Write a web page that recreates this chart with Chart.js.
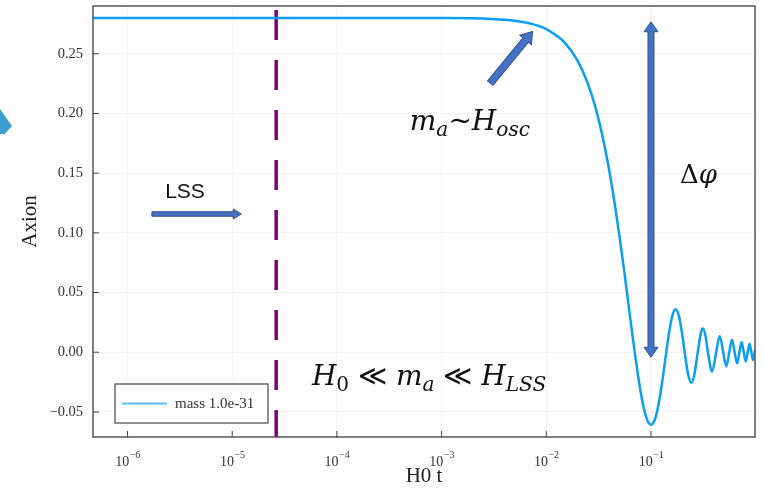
<!DOCTYPE html>
<html>
<head>
<meta charset="utf-8">
<script src="https://cdn.jsdelivr.net/npm/chart.js@4.4.1/dist/chart.umd.min.js"></script>
<style>
  body { margin: 0; background: #fff; }
  #wrap { position: relative; width: 766px; height: 489px; }
  #tri { position: absolute; left: 0; top: 109px; width: 12px; height: 25px; background: #3a9fd0;
         clip-path: polygon(0 0, 100% 68%, 40% 100%, 0 100%); }
</style>
</head>
<body>
<div id="wrap">
  <canvas id="c" width="766" height="489"></canvas>
  <div id="tri"></div>
</div>
<script>
// time (H0 t) and axion field
const times = [4.68e-7, 1e-5, 1e-4, 1e-3, 3e-3, 0.005, 0.008, 0.01, 0.015, 0.02, 0.025, 0.03, 0.035,
  0.04, 0.045, 0.05, 0.055, 0.06, 0.065, 0.07, 0.075, 0.08, 0.085, 0.09, 0.095, 0.1, 0.105, 0.11,
  0.12, 0.13, 0.14, 0.15, 0.16, 0.172, 0.185, 0.2, 0.21, 0.225, 0.243, 0.26, 0.28, 0.3, 0.313,
  0.33, 0.35, 0.383, 0.42, 0.453, 0.49, 0.524, 0.56, 0.594, 0.63, 0.664, 0.7, 0.734, 0.77, 0.804,
  0.84, 0.874, 0.91, 0.944, 0.985];
const axion = [0.280, 0.280, 0.280, 0.2799, 0.2792, 0.2776, 0.2740, 0.2707, 0.2593, 0.2438, 0.2248, 0.2026, 0.1780,
  0.1518, 0.1246, 0.0973, 0.0705, 0.0448, 0.0210, -0.0003, -0.0188, -0.0341, -0.0460, -0.0543, -0.0592, -0.0608, -0.0593, -0.0552,
  -0.0404, -0.0205, 0.0003, 0.0183, 0.0306, 0.0359, 0.0302, 0.0132, -0.0003, -0.0175, -0.0256, -0.0185, 0.0003, 0.0164, 0.0199,
  0.0146, -0.0003, -0.0162, 0.0003, 0.0137, -0.0003, -0.0119, 0.0003, 0.0105, -0.0003, -0.0094, 0.0003, 0.0085, -0.0003, -0.0078,
  0.0003, 0.0071, -0.0003, -0.0066, 0.0020];
const lssTime = 2.63e-5;
const seriesLabel = 'mass 1.0e-31';

const xTicks = [1e-6, 1e-5, 1e-4, 1e-3, 1e-2, 1e-1];
const xTickLabels = [['10', '−6'], ['10', '−5'], ['10', '−4'], ['10', '−3'], ['10', '−2'], ['10', '−1']];
const yTicks = [-0.05, 0, 0.05, 0.10, 0.15, 0.20, 0.25];
const yTickLabels = ['−0.05', '0.00', '0.05', '0.10', '0.15', '0.20', '0.25'];

const serif = '"Liberation Serif", "DejaVu Serif", serif';
const mathFont = '"DejaVu Serif", serif';
const blue = '#0c9ef5';

// slide annotations, positioned in data space
const arrows = [
  { from: { x: 1.71e-6, y: 0.1158 }, to: { x: 1.22e-5, y: 0.1158 }, shaft: 4.5, head: 10, headLen: 8 },
  { from: { x: 2.92e-3, y: 0.2254 }, to: { x: 7.4e-3, y: 0.2687 }, shaft: 7, head: 15, headLen: 11 },
  { from: { x: 0.1, y: 0.2768 }, to: { x: 0.1, y: -0.0042 }, shaft: 6, head: 14, headLen: 10, both: true }
];
const labels = [
  { at: { x: 3.54e-6, y: 0.1342 }, align: 'center', size: 21, parts: [{ t: 'LSS', fam: '"Liberation Sans", sans-serif' }] },
  { at: { x: 4.97e-4, y: 0.1862 }, size: 28, parts: [{ t: 'm', it: 1 }, { t: 'a', it: 1, sub: 1 }, { t: '~' }, { t: 'H', it: 1 }, { t: 'osc', it: 1, sub: 1 }] },
  { at: { x: 0.189, y: 0.1418 }, size: 26, parts: [{ t: 'Δ' }, { t: 'φ', it: 1 }] },
  { at: { x: 5.77e-5, y: -0.0277 }, size: 28, parts: [{ t: 'H', it: 1 }, { t: '0', sub: 1 }, { t: ' ≪ ' }, { t: 'm', it: 1 }, { t: 'a', it: 1, sub: 1 }, { t: ' ≪ ' }, { t: 'H', it: 1 }, { t: 'LSS', it: 1, sub: 1 }] }
];

function drawArrow(ctx, x1, y1, x2, y2, a) {
  const len = Math.hypot(x2 - x1, y2 - y1);
  const w = a.shaft / 2, hw = a.head / 2, hl = a.headLen;
  const pts = a.both
    ? [[0, 0], [hl, -hw], [hl, -w], [len - hl, -w], [len - hl, -hw], [len, 0], [len - hl, hw], [len - hl, w], [hl, w], [hl, hw]]
    : [[0, -w], [len - hl, -w], [len - hl, -hw], [len, 0], [len - hl, hw], [len - hl, w], [0, w]];
  ctx.save();
  ctx.translate(x1, y1);
  ctx.rotate(Math.atan2(y2 - y1, x2 - x1));
  ctx.beginPath();
  pts.forEach((p, i) => i ? ctx.lineTo(p[0], p[1]) : ctx.moveTo(p[0], p[1]));
  ctx.closePath();
  ctx.fillStyle = '#4472c4';
  ctx.fill();
  ctx.strokeStyle = '#2f528f';
  ctx.lineWidth = 1;
  ctx.stroke();
  ctx.restore();
}

function drawRich(ctx, x, y, parts, size, align) {
  const fontOf = p => (p.it ? 'italic ' : '') + (p.sub ? size * 0.72 : size) + 'px ' + (p.fam || mathFont);
  let total = 0;
  parts.forEach(p => { ctx.font = fontOf(p); total += ctx.measureText(p.t).width; });
  if (align === 'center') x -= total / 2;
  parts.forEach(p => {
    ctx.font = fontOf(p);
    ctx.fillText(p.t, x, y + (p.sub ? size * 0.22 : 0));
    x += ctx.measureText(p.t).width;
  });
}

const decor = {
  id: 'decor',
  afterDatasetsDraw(chart) {
    const { ctx, chartArea: ca, scales: { x, y } } = chart;
    ctx.save();
    // frame
    ctx.strokeStyle = '#555';
    ctx.lineWidth = 1.5;
    ctx.strokeRect(ca.left, ca.top, ca.right - ca.left, ca.bottom - ca.top);
    // inward ticks
    ctx.lineWidth = 1;
    ctx.strokeStyle = '#444';
    ctx.beginPath();
    x.ticks.forEach(t => { const px = x.getPixelForValue(t.value); ctx.moveTo(px, ca.bottom); ctx.lineTo(px, ca.bottom - 6); });
    y.ticks.forEach(t => { const py = y.getPixelForValue(t.value); ctx.moveTo(ca.left, py); ctx.lineTo(ca.left + 6, py); });
    ctx.stroke();
    // x tick labels with superscripts
    ctx.fillStyle = '#333';
    ctx.textBaseline = 'alphabetic';
    x.ticks.forEach((t, i) => {
      const px = x.getPixelForValue(t.value);
      const [base, exp] = xTickLabels[i];
      ctx.font = '14px ' + serif;
      const bw = ctx.measureText(base).width;
      ctx.font = '10px ' + serif;
      const ew = ctx.measureText(exp).width;
      const sx = px - (bw + ew) / 2;
      ctx.font = '14px ' + serif;
      ctx.fillText(base, sx, ca.bottom + 29);
      ctx.font = '10px ' + serif;
      ctx.fillText(exp, sx + bw + 0.5, ca.bottom + 21);
    });
    // legend
    const lx = ca.left + 22, ly = ca.bottom - 53;
    ctx.fillStyle = '#fff';
    ctx.fillRect(lx, ly, 153, 39);
    ctx.strokeStyle = '#555';
    ctx.lineWidth = 1.3;
    ctx.strokeRect(lx, ly, 153, 39);
    ctx.strokeStyle = '#5cbdfa';
    ctx.lineWidth = 2;
    ctx.beginPath();
    ctx.moveTo(lx + 7, ly + 19.5);
    ctx.lineTo(lx + 52, ly + 19.5);
    ctx.stroke();
    ctx.fillStyle = '#333';
    ctx.font = '15px ' + serif;
    ctx.textBaseline = 'middle';
    ctx.fillText(chart.data.datasets[0].label, lx + 60, ly + 20);
    // annotations
    arrows.forEach(a => drawArrow(ctx, x.getPixelForValue(a.from.x), y.getPixelForValue(a.from.y),
      x.getPixelForValue(a.to.x), y.getPixelForValue(a.to.y), a));
    ctx.fillStyle = '#111';
    ctx.textBaseline = 'alphabetic';
    labels.forEach(l => {
      const px = x.getPixelForValue(l.at.x), py = y.getPixelForValue(l.at.y);
      if (l.align === 'center') { ctx.textBaseline = 'middle'; }
      drawRich(ctx, px, py, l.parts, l.size, l.align);
      ctx.textBaseline = 'alphabetic';
    });
    ctx.restore();
  }
};

new Chart(document.getElementById('c'), {
  type: 'line',
  data: {
    datasets: [
      {
        label: seriesLabel,
        data: times.map((t, i) => ({ x: t, y: axion[i] })),
        borderColor: blue,
        borderWidth: 2.5,
        pointRadius: 0,
        cubicInterpolationMode: 'monotone',
        fill: false
      },
      {
        label: 'LSS',
        data: [{ x: lssTime, y: 0.290 }, { x: lssTime, y: -0.071 }],
        borderColor: '#800080',
        borderWidth: 3.5,
        borderDash: [30, 20],
        borderDashOffset: 46,
        pointRadius: 0,
        fill: false
      }
    ]
  },
  options: {
    responsive: false,
    animation: false,
    layout: { padding: { top: 6, right: 11, left: 0, bottom: 0 } },
    plugins: { legend: { display: false }, tooltip: { enabled: false } },
    scales: {
      x: {
        type: 'logarithmic',
        min: 4.68e-7,
        max: 0.985,
        afterBuildTicks: s => { s.ticks = xTicks.map(v => ({ value: v })); },
        afterFit: s => { s.height = 52; s.paddingLeft = 0; s.paddingRight = 0; },
        ticks: { display: false },
        grid: { color: 'rgba(0,0,0,0.07)', lineWidth: 0.6, drawTicks: false },
        border: { display: false },
        title: { display: true, text: 'H0 t', color: '#222', font: { family: serif, size: 21 }, padding: { top: 0, bottom: 0 } }
      },
      y: {
        min: -0.071,
        max: 0.290,
        afterBuildTicks: s => { s.ticks = yTicks.map(v => ({ value: v })); },
        afterFit: s => { s.width = 93; s.paddingTop = 0; s.paddingBottom = 0; },
        ticks: { color: '#333', font: { family: serif, size: 14.5 }, padding: 10, callback: (v, i) => yTickLabels[i] },
        grid: { color: 'rgba(0,0,0,0.07)', lineWidth: 0.6, drawTicks: false },
        border: { display: false },
        title: { display: true, text: 'Axion', color: '#222', font: { family: serif, size: 21 }, padding: { top: 18, bottom: 0 } }
      }
    }
  },
  plugins: [decor]
});
</script>
</body>
</html>
